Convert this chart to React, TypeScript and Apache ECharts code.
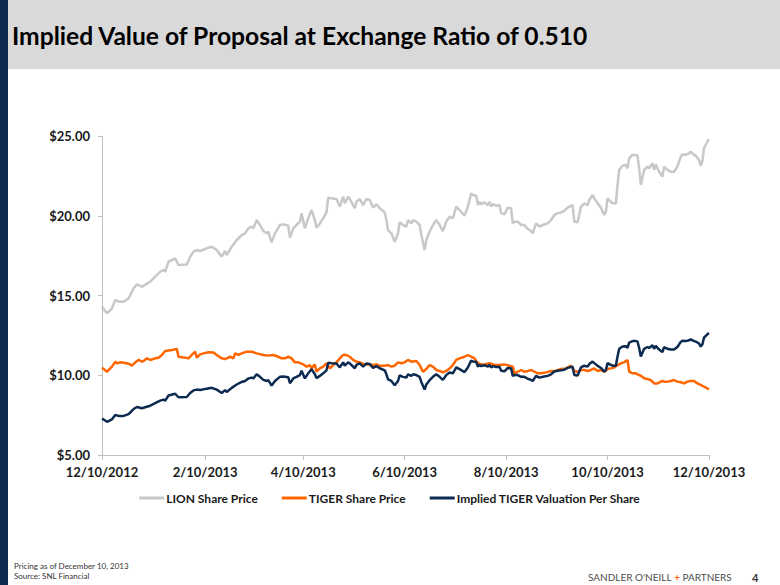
import React, { useEffect, useRef } from "react";
import * as echarts from "echarts";

// x values are days since 12/10/2012
const tickDays = [0, 62, 121, 182, 243, 304, 365];
const tickLabels = ["12/10/2012", "2/10/2013", "4/10/2013", "6/10/2013", "8/10/2013", "10/10/2013", "12/10/2013"];

const lionDays = [
  0, 3, 6, 8, 10, 13, 16, 19, 21, 24, 29, 32, 35, 37, 38, 40, 44, 46, 51, 53, 55, 57, 59, 63, 66, 69, 72, 74,
  75, 78, 81, 84, 86, 88, 90, 91, 93, 95, 97, 99, 100, 102, 104, 107, 109, 112, 113, 115, 117, 119, 120, 122, 124, 126, 128, 129, 131, 133, 135, 136, 138, 141, 143,
  145, 146, 148, 149, 152, 153, 155, 157, 159, 161, 163, 165, 167, 170, 171, 172, 174, 176, 178, 179, 181, 183, 184, 186, 187, 189, 191, 192, 194, 195, 197, 199, 201, 203, 205, 207, 209, 211, 213, 215,
  218, 220, 222, 223, 225, 226, 227, 228, 230, 232, 233, 234, 235, 237, 239, 240, 242, 244, 246, 247, 248, 250, 252, 254, 256, 258, 259, 260, 261, 263, 265, 268, 270, 272, 274, 276, 278, 280, 283, 284, 286, 288,
  290, 292, 293, 295, 296, 298, 300, 302, 303, 304, 306, 307, 309, 310, 311, 313, 315, 316, 317, 319, 321, 322, 323, 324, 326, 328, 329, 331, 332, 333, 335, 337, 338, 340, 342, 344, 346, 348, 349, 351, 353, 354, 356, 357, 359, 360, 361, 362, 364, 365,
];
const lionPrice = [
  14.30, 13.88, 14.20, 14.72, 14.61, 14.61, 14.82, 15.45, 15.70, 15.55, 15.87, 16.18, 16.49, 16.60, 16.49, 17.12, 17.33, 16.91, 16.95, 17.43, 17.75, 17.85, 17.79, 17.96, 18.06, 17.85, 17.43, 17.79,
  17.54, 18.06, 18.48, 18.79, 18.90, 19.21, 19.32, 19.21, 19.73, 19.42, 19.04, 18.90, 19.00, 18.33, 18.90, 19.42, 19.46, 19.38, 18.63, 19.21, 19.42, 19.63, 20.15, 19.21, 19.84, 20.36, 19.73, 19.25, 19.52, 19.84, 20.21, 21.13, 21.09, 21.05, 20.57,
  21.20, 20.78, 21.20, 21.05, 20.47, 20.88, 21.05, 20.67, 21.05, 20.99, 20.51, 20.72, 20.47, 20.21, 19.73, 19.10, 18.90, 18.37, 18.90, 19.59, 19.42, 19.32, 19.73, 19.52, 19.73, 19.63, 19.42, 18.79, 17.85, 18.48, 19.00, 19.42, 19.73, 19.42, 19.04, 19.63, 19.94, 19.84, 20.57, 20.36,
  20.00, 20.57, 21.41, 21.30, 21.26, 20.67, 20.88, 20.72, 20.84, 20.67, 20.88, 20.57, 20.72, 20.63, 20.67, 20.15, 20.09, 20.51, 20.47, 19.52, 19.63, 19.63, 19.42, 19.42, 19.17, 19.04, 18.90, 19.21, 19.52, 19.32, 19.42, 19.52, 19.73, 20.05, 20.15, 20.21, 20.30, 20.51, 20.67, 19.63, 19.59, 20.57,
  20.78, 20.67, 20.99, 21.30, 21.09, 20.78, 20.51, 20.05, 20.26, 21.09, 20.88, 20.78, 20.78, 21.93, 22.87, 23.14, 23.18, 22.97, 23.60, 23.81, 23.81, 23.77, 22.97, 21.93, 22.87, 23.08, 22.97, 23.29, 22.87, 23.22, 22.76, 22.45, 23.08, 22.87, 22.76, 22.76, 23.08, 23.70, 23.85, 23.81, 23.91, 24.02, 23.81, 23.77, 23.50, 23.14, 23.39, 24.23, 24.64, 24.80,
];
const impliedValuation = [
  7.29, 7.08, 7.24, 7.51, 7.45, 7.45, 7.56, 7.88, 8.01, 7.93, 8.09, 8.25, 8.41, 8.47, 8.41, 8.73, 8.84, 8.62, 8.64, 8.89, 9.05, 9.10, 9.07, 9.16, 9.21, 9.10, 8.89, 9.07,
  8.95, 9.21, 9.42, 9.58, 9.64, 9.80, 9.85, 9.80, 10.06, 9.90, 9.71, 9.64, 9.69, 9.35, 9.64, 9.90, 9.92, 9.88, 9.50, 9.80, 9.90, 10.01, 10.28, 9.80, 10.12, 10.38, 10.06, 9.82, 9.96, 10.12, 10.31, 10.78, 10.76, 10.74, 10.49,
  10.81, 10.60, 10.81, 10.74, 10.44, 10.65, 10.74, 10.54, 10.74, 10.70, 10.46, 10.57, 10.44, 10.31, 10.06, 9.74, 9.64, 9.37, 9.64, 9.99, 9.90, 9.85, 10.06, 9.96, 10.06, 10.01, 9.90, 9.58, 9.10, 9.42, 9.69, 9.90, 10.06, 9.90, 9.71, 10.01, 10.17, 10.12, 10.49, 10.38,
  10.20, 10.49, 10.92, 10.86, 10.84, 10.54, 10.65, 10.57, 10.63, 10.54, 10.65, 10.49, 10.57, 10.52, 10.54, 10.28, 10.25, 10.46, 10.44, 9.96, 10.01, 10.01, 9.90, 9.90, 9.78, 9.71, 9.64, 9.80, 9.96, 9.85, 9.90, 9.96, 10.06, 10.23, 10.28, 10.31, 10.35, 10.46, 10.54, 10.01, 9.99, 10.49,
  10.60, 10.54, 10.70, 10.86, 10.76, 10.60, 10.46, 10.23, 10.33, 10.76, 10.65, 10.60, 10.60, 11.18, 11.66, 11.80, 11.82, 11.71, 12.04, 12.14, 12.14, 12.12, 11.71, 11.18, 11.66, 11.77, 11.71, 11.88, 11.66, 11.84, 11.61, 11.45, 11.77, 11.66, 11.61, 11.61, 11.77, 12.09, 12.16, 12.14, 12.19, 12.25, 12.14, 12.12, 11.99, 11.80, 11.93, 12.36, 12.57, 12.65,
];

const tigerDays = [
  0, 3, 6, 8, 9, 11, 15, 17, 18, 20, 22, 24, 25, 27, 29, 32, 34, 36, 38, 42, 45, 46, 49, 52, 54, 56, 57, 59, 61, 64, 67, 69, 72, 74,
  75, 77, 79, 80, 82, 84, 87, 90, 93, 97, 100, 103, 106, 108, 110, 112, 114, 116, 118, 121, 123, 125, 126, 128, 129, 131, 133, 135, 137, 139, 141, 143,
  145, 147, 149, 151, 153, 155, 158, 161, 163, 165, 167, 170, 172, 174, 176, 178, 180, 182, 184, 186, 189, 191, 193, 195, 197, 199, 201, 203, 205, 207, 209, 211, 213, 215,
  218, 220, 222, 224, 226, 228, 230, 233, 236, 239, 242, 245, 247, 248, 250, 252, 254, 256, 258, 260, 262, 264, 267, 270, 273, 276, 279, 282, 284, 286, 288,
  290, 292, 294, 296, 298, 300, 302, 304, 306, 308, 310, 312, 314, 316, 317, 319, 321, 322, 324, 326, 328, 330, 332, 334, 337, 338, 340, 342, 344, 346, 348, 350, 352, 354, 356, 358, 360, 362, 364, 365,
];
const tigerPrice = [
  10.48, 10.22, 10.54, 10.85, 10.75, 10.81, 10.75, 10.68, 10.60, 10.81, 10.96, 10.85, 10.89, 11.06, 10.96, 11.06, 11.10, 11.27, 11.52, 11.58, 11.65, 11.16, 11.12, 11.06, 11.27, 11.48, 11.10, 11.31, 11.37, 11.44, 11.42, 11.27, 11.06, 11.02,
  11.06, 11.16, 11.06, 11.37, 11.27, 11.37, 11.48, 11.48, 11.37, 11.27, 11.23, 11.27, 11.16, 11.06, 11.06, 11.16, 11.06, 10.81, 10.81, 10.68, 10.54, 10.64, 10.43, 10.68, 10.22, 10.43, 10.54, 10.75, 10.43, 10.64, 10.81, 11.06,
  11.27, 11.27, 11.16, 10.96, 10.85, 10.81, 10.68, 10.68, 10.64, 10.68, 10.60, 10.60, 10.64, 10.54, 10.60, 10.81, 10.75, 10.81, 10.96, 10.85, 10.89, 10.64, 10.22, 10.39, 10.64, 10.54, 10.33, 10.27, 10.18, 10.27, 10.43, 10.64, 10.96, 11.06,
  11.16, 11.27, 11.16, 11.06, 10.75, 10.68, 10.68, 10.75, 10.64, 10.64, 10.68, 10.60, 10.54, 10.12, 10.22, 10.33, 10.22, 10.27, 10.33, 10.22, 10.12, 10.12, 10.18, 10.27, 10.29, 10.39, 10.43, 10.60, 10.27, 10.22, 10.33,
  10.33, 10.27, 10.33, 10.43, 10.27, 10.33, 10.22, 10.39, 10.43, 10.48, 10.64, 10.75, 10.81, 10.96, 10.22, 10.12, 10.12, 10.06, 9.97, 9.81, 9.76, 9.70, 9.49, 9.49, 9.64, 9.60, 9.60, 9.64, 9.70, 9.60, 9.56, 9.49, 9.60, 9.64, 9.64, 9.49, 9.39, 9.28, 9.18, 9.12,
];

const yTicks = [5, 10, 15, 20, 25];

const NAVY = "#0d2a50";
const FONT = "Lato";

export default function App() {
  const ref = useRef<HTMLDivElement>(null);
  useEffect(() => {
    if (!ref.current) return;
    const chart = echarts.init(ref.current, null, { renderer: "svg" });
    const lineSeries = (name: string, xs: number[], ys: number[], color: string) => ({
      name,
      type: "line",
      data: xs.map((d, i) => [d, ys[i]]),
      showSymbol: false,
      symbol: "none",
      lineStyle: { color, width: 2.5 },
      itemStyle: { color },
    });
    chart.setOption({
      animation: false,
      backgroundColor: "#ffffff",
      grid: { left: 102, right: 71, top: 136, bottom: 130, containLabel: false },
      xAxis: {
        type: "value",
        min: tickDays[0],
        max: tickDays[tickDays.length - 1],
        splitLine: { show: false },
        axisLine: { show: true, lineStyle: { color: "#bfbfbf", width: 1 } },
        axisTick: { show: true, customValues: tickDays, length: 5, lineStyle: { color: "#bfbfbf" } },
        axisLabel: {
          customValues: tickDays,
          margin: 10,
          color: "#1a1a1a",
          fontFamily: FONT,
          fontWeight: "bold",
          fontSize: 13,
          formatter: (v: number) => {
            const i = tickDays.indexOf(Math.round(v));
            return i >= 0 ? tickLabels[i] : "";
          },
        },
      },
      yAxis: {
        type: "value",
        min: yTicks[0],
        max: yTicks[yTicks.length - 1],
        interval: 5,
        splitLine: { show: false },
        axisLine: { show: true, lineStyle: { color: "#bfbfbf", width: 1 } },
        axisTick: { show: true, length: 4, lineStyle: { color: "#bfbfbf" } },
        axisLabel: {
          margin: 12,
          color: "#1a1a1a",
          fontFamily: FONT,
          fontWeight: "bold",
          fontSize: 13,
          formatter: (v: number) => "$" + v.toFixed(2),
        },
      },
      legend: {
        left: "center",
        top: 487,
        icon: "rect",
        itemWidth: 25,
        itemHeight: 3,
        itemGap: 24,
        textStyle: { fontFamily: FONT, fontWeight: "bold", fontSize: 12, color: "#1a1a1a", padding: [0, 0, 0, -3] },
        data: ["LION Share Price", "TIGER Share Price", "Implied TIGER Valuation Per Share"],
      },
      series: [
        lineSeries("LION Share Price", lionDays, lionPrice, "#c8c8c8"),
        lineSeries("TIGER Share Price", tigerDays, tigerPrice, "#ff6600"),
        lineSeries("Implied TIGER Valuation Per Share", lionDays, impliedValuation, NAVY),
      ],
      graphic: [
        { type: "rect", left: 0, top: 0, shape: { width: 780, height: 69 }, style: { fill: "#d9d9d9" }, silent: true },
        { type: "rect", left: 0, top: 0, shape: { width: 8, height: 585 }, style: { fill: NAVY }, silent: true },
        {
          type: "text",
          x: 12,
          y: 35,
          style: {
            text: "Implied Value of Proposal at Exchange Ratio of 0.510",
            font: `bold 24.6px ${FONT}`,
            fill: "#000000",
            verticalAlign: "middle",
          },
        },
        {
          type: "text",
          x: 14,
          y: 566,
          style: { text: "Pricing as of December 10, 2013", font: `8px ${FONT}`, fill: "#333333", verticalAlign: "middle" },
        },
        {
          type: "text",
          x: 14,
          y: 576,
          style: { text: "Source: SNL Financial", font: `8px ${FONT}`, fill: "#333333", verticalAlign: "middle" },
        },
        {
          type: "text",
          x: 588,
          y: 577,
          style: {
            text: "{a|SANDLER O'NEILL }{b|+}{a| PARTNERS}",
            verticalAlign: "middle",
            rich: {
              a: { font: `10px ${FONT}`, fill: "#4d4d4d" },
              b: { font: `bold 10px ${FONT}`, fill: "#ff6600" },
            },
          },
        },
        {
          type: "text",
          x: 752,
          y: 577,
          style: { text: "4", font: `bold 11px ${FONT}`, fill: "#333333", verticalAlign: "middle" },
        },
      ],
    });
    return () => chart.dispose();
  }, []);
  return (
    <div style={{ position: "fixed", left: 0, top: 0, width: 780, height: 585, background: "#fff" }}>
      <div ref={ref} style={{ width: 780, height: 585 }} />
    </div>
  );
}
